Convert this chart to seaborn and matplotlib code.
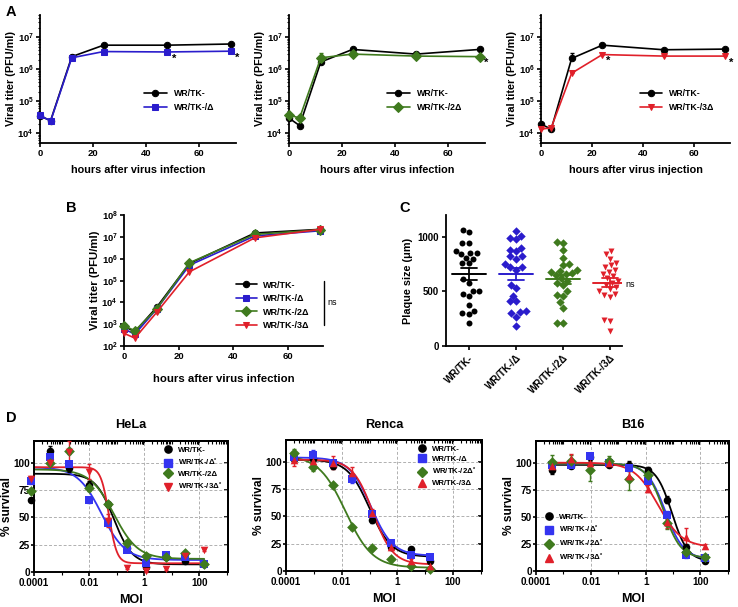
import numpy as np
import pandas as pd
import matplotlib
matplotlib.use('Agg')
import matplotlib.pyplot as plt
import seaborn as sns
from matplotlib.ticker import LogLocator, FuncFormatter, NullFormatter, MultipleLocator, FixedLocator
from matplotlib.lines import Line2D

sns.set_style('ticks')
plt.rcParams.update({
    'font.family': ['Liberation Sans', 'DejaVu Sans'], 'font.weight': 'bold',
    'axes.labelweight': 'bold', 'axes.titleweight': 'bold',
    'mathtext.fontset': 'custom', 'mathtext.rm': 'Liberation Sans:bold',
    'mathtext.bf': 'Liberation Sans:bold', 'mathtext.it': 'Liberation Sans:bold',
    'mathtext.default': 'bf', 'axes.linewidth': 1.3,
    'xtick.major.width': 1.2, 'ytick.major.width': 1.2,
    'xtick.minor.width': 0.8, 'ytick.minor.width': 0.8,
    'xtick.major.size': 3, 'ytick.major.size': 3,
    'xtick.minor.size': 1.8, 'ytick.minor.size': 1.8,
    'text.color': 'black', 'axes.labelcolor': 'black',
    'xtick.color': 'black', 'ytick.color': 'black', 'axes.edgecolor': 'black',
})

W, H = 738, 607

# ── colours / markers ────────────────────────────────────────────────────────
BLACK = '#000000'
BLUE = '#2a1ccc'
BLUE_D = '#3434f0'
GREEN = '#3f7a1e'
RED = '#e0202a'

# ── Panel A: growth curves (PFU/ml) ──────────────────────────────────────────
TIME = [0, 4, 12, 24, 48, 72]
A1_WR = [3.5e4, 2.5e4, 2.5e6, 5.7e6, 5.7e6, 6.2e6]
A1_WR_ERR = [4e3, 2e3, 3e5, 4e5, 3e5, 3e5]
A1_D1 = [3.7e4, 2.4e4, 2.3e6, 3.6e6, 3.5e6, 3.7e6]
A1_D1_ERR = [5e3, 2e3, 6e5, 3e5, 3e5, 3e5]
A1_STARS = [48, 72]

A2_WR = [3.0e4, 1.75e4, 1.7e6, 4.2e6, 3.0e6, 4.2e6]
A2_WR_ERR = [3e3, 1.5e3, 2e5, 3e5, 2e5, 3e5]
A2_D2 = [3.8e4, 3.0e4, 2.3e6, 3.0e6, 2.6e6, 2.5e6]
A2_D2_ERR = [4e3, 3e3, 9e5, 3e5, 2e5, 2e5]
A2_STARS = [72]

A3_WR = [1.95e4, 1.35e4, 2.2e6, 5.7e6, 4.1e6, 4.3e6]
A3_WR_ERR = [2e3, 1.5e3, 1.1e6, 5e5, 3e5, 3e5]
A3_D3 = [1.35e4, 1.5e4, 7.6e5, 2.9e6, 2.6e6, 2.6e6]
A3_D3_ERR = [1e3, 1.5e3, 8e4, 2.5e5, 2e5, 2e5]
A3_STARS = [24, 72]

# ── Panel B ──────────────────────────────────────────────────────────────────
B_WR = [800, 450, 6000, 6.0e5, 1.5e7, 2.2e7]
B_D1 = [600, 350, 5000, 5.0e5, 1.1e7, 1.9e7]
B_D2 = [850, 500, 5000, 6.5e5, 1.3e7, 2.1e7]
B_D3 = [380, 230, 3500, 2.5e5, 9.0e6, 2.2e7]

# ── Panel C: plaque size (µm) ────────────────────────────────────────────────
C_GROUPS = ['WR/TK-', 'WR/TK-/Δ', 'WR/TK-/2Δ', 'WR/TK-/3Δ']
C_WR = [1060, 1045, 940, 940, 870, 850, 850, 840, 810, 800, 760, 760, 610, 580,
        500, 500, 480, 460, 380, 320, 300, 290, 210]
C_D1 = [1050, 1010, 990, 980, 900, 880, 870, 820, 820, 800, 750, 720, 720, 700,
        560, 530, 460, 410, 410, 320, 310, 300, 270, 180]
C_D2 = [950, 940, 880, 810, 750, 740, 700, 690, 680, 670, 660, 650, 620, 600,
        580, 560, 500, 470, 460, 400, 350, 210, 210]
C_D3 = [870, 840, 800, 760, 740, 720, 700, 680, 660, 640, 620, 600, 580, 560,
        540, 520, 500, 480, 470, 450, 240, 230, 140]

# ── Panel D: % survival vs MOI ───────────────────────────────────────────────
HELA_MOI = [7.68e-5, 3.84e-4, 1.92e-3, 9.6e-3, 0.048, 0.24, 1.2, 6, 30, 150]
HELA_WR = [66, 111, 95, 80, 62, 22, 5, 14, 10, 7]
HELA_D1 = [83, 105, 99, 66, 45, 20, 8, 16, 14, 7]
HELA_D2 = [74, 100, 111, 77, 62, 27, 15, 14, 17, 7]
HELA_D3 = [85, 100, 110, 92, 47, 4, 1, 3, 15, 20]
HELA_WR_ERR = [2, 4, 3, 3, 2, 2, 1, 2, 2, 1]
HELA_D1_ERR = [2, 3, 3, 3, 3, 2, 2, 2, 2, 2]
HELA_D2_ERR = [2, 2, 3, 3, 2, 2, 2, 2, 2, 1]
HELA_D3_ERR = [3, 3, 10, 7, 6, 1, 1, 1, 2, 1]
# fitted 4PL: top, bottom, logEC50, hill
HELA_FIT = [(90, 7, -1.10, 1.3), (96, 11, -1.55, 1.0), (94, 12, -1.10, 1.0), (96, 8, -1.28, 3.0)]

RENCA_MOI = [1.92e-4, 9.6e-4, 4.8e-3, 0.024, 0.12, 0.6, 3, 15]
RENCA_WR = [103, 103, 96, 85, 47, 22, 20, 9]
RENCA_D1 = [104, 106, 99, 84, 52, 26, 15, 13]
RENCA_D2 = [108, 95, 79, 40, 21, 11, 5, 2]
RENCA_D3 = [102, 101, 99, 90, 53, 22, 9, 5]
RENCA_WR_ERR = [3, 3, 3, 3, 3, 2, 2, 2]
RENCA_D1_ERR = [3, 5, 3, 3, 3, 2, 2, 2]
RENCA_D2_ERR = [4, 3, 2, 2, 2, 2, 1, 1]
RENCA_D3_ERR = [6, 4, 6, 5, 4, 3, 2, 2]
RENCA_FIT = [(102, 13, -1.00, 1.1), (104, 14, -0.95, 1.1), (106, 3, -1.86, 0.9), (102, 6, -0.88, 1.2)]

B16_MOI = [3.84e-4, 1.92e-3, 9.6e-3, 0.048, 0.24, 1.2, 6, 30, 150]
B16_WR = [93, 97, 105, 98, 98, 93, 66, 22, 9]
B16_D1 = [98, 98, 106, 100, 95, 83, 52, 15, 12]
B16_D2 = [101, 102, 93, 102, 85, 89, 44, 18, 13]
B16_D3 = [97, 103, 100, 100, 88, 76, 45, 31, 23]
B16_WR_ERR = [3, 2, 3, 2, 4, 3, 3, 3, 2]
B16_D1_ERR = [3, 2, 3, 2, 3, 3, 3, 3, 2]
B16_D2_ERR = [6, 5, 10, 4, 10, 5, 5, 4, 3]
B16_D3_ERR = [4, 5, 3, 3, 4, 3, 5, 9, 2]
B16_FIT = [(98, 9, 0.96, 1.5), (99, 11, 0.72, 1.3), (99, 12, 0.66, 1.4), (100, 22, 0.45, 1.0)]


def box(l, t, r, b):
    return fig.add_axes([l / W, 1 - b / H, (r - l) / W, (b - t) / H])


def log_fmt(v, pos):
    return r'$\mathbf{10^{%d}}$' % int(round(np.log10(v)))


def style_titer(ax, ylim, xlabel):
    sns.despine(ax=ax)
    ax.set_yscale('log')
    ax.set_ylim(*ylim)
    ax.set_xlim(0, 74)
    ax.xaxis.set_major_locator(MultipleLocator(20))
    ax.yaxis.set_major_locator(LogLocator(base=10, numticks=12))
    ax.yaxis.set_major_formatter(FuncFormatter(log_fmt))
    ax.yaxis.set_minor_formatter(NullFormatter())
    ax.tick_params(labelsize=6.8, pad=1.5)
    ax.set_xlabel(xlabel, fontsize=7.8, labelpad=5)
    ax.set_ylabel('Viral titer (PFU/ml)', fontsize=7.8, labelpad=1)


def titer_line(ax, y, err, color, marker, label):
    sns.lineplot(x=TIME, y=y, ax=ax, color=color, marker=marker, markersize=4.6,
                 markeredgecolor=color, linewidth=1.2, label=label, clip_on=False, zorder=3)
    if err is not None:
        ax.errorbar(TIME, y, yerr=[np.zeros(len(err)), err], fmt='none', ecolor=color,
                    elinewidth=1, capsize=1.5, clip_on=False, zorder=2)


fig = plt.figure(figsize=(W / 100, H / 100), dpi=100)

# ── A ────────────────────────────────────────────────────────────────────────
a_specs = [
    ((40, 15, 236, 143), A1_WR, A1_WR_ERR, A1_D1, A1_D1_ERR, BLUE, 's', 'WR/TK-/Δ', A1_STARS,
     'hours after virus infection', 0.49),
    ((289, 15, 485, 143), A2_WR, A2_WR_ERR, A2_D2, A2_D2_ERR, GREEN, 'D', 'WR/TK-/2Δ', A2_STARS,
     'hours after virus infection', 0.46),
    ((541, 15, 730, 143), A3_WR, A3_WR_ERR, A3_D3, A3_D3_ERR, RED, 'v', 'WR/TK-/3Δ', A3_STARS,
     'hours after virus injection', 0.48),
]
for pos, wr, wr_e, mut, mut_e, col, mk, lab, stars, xl, lx in a_specs:
    ax = box(*pos)
    titer_line(ax, wr, wr_e, BLACK, 'o', 'WR/TK-')
    titer_line(ax, mut, mut_e, col, mk, lab)
    style_titer(ax, (5e3, 5e7), xl)
    for t in stars:
        v = mut[TIME.index(t)]
        ax.text(t + 2.5, v * 0.62, '*', fontsize=8, ha='center', va='center', clip_on=False)
    ax.legend(loc='center left', bbox_to_anchor=(lx, 0.33), frameon=False, fontsize=6.3,
              handlelength=2.6, labelspacing=0.55, handletextpad=0.8)
fig.text(6 / W, 1 - 12 / H, 'A', fontsize=10.5, fontweight='bold', va='center')

# ── B ────────────────────────────────────────────────────────────────────────
ax = box(124, 215, 323, 346)
for y, col, mk, lab in [(B_WR, BLACK, 'o', 'WR/TK-'), (B_D1, BLUE, 's', 'WR/TK-/Δ'),
                        (B_D2, GREEN, 'D', 'WR/TK-/2Δ'), (B_D3, RED, 'v', 'WR/TK-/3Δ')]:
    titer_line(ax, y, None, col, mk, lab)
style_titer(ax, (1e2, 1e8), 'hours after virus infection')
ax.set_xlim(0, 73)
ax.xaxis.label.set_size(8.2)
ax.yaxis.label.set_size(8.2)
ax.xaxis.labelpad = 9
ax.legend(loc='center left', bbox_to_anchor=(0.52, 0.31), frameon=False, fontsize=6.5,
          handlelength=2.4, labelspacing=0.5, handletextpad=0.6)
ax.plot([1.005, 1.005], [0.16, 0.5], transform=ax.transAxes, color='black', lw=1, clip_on=False)
ax.text(1.02, 0.33, 'ns', transform=ax.transAxes, fontsize=6.5, fontweight='normal', va='center')
fig.text(66 / W, 1 - 208 / H, 'B', fontsize=10.5, fontweight='bold', va='center')

# ── C ────────────────────────────────────────────────────────────────────────
ax = box(446, 215, 622, 346)
c_df = pd.DataFrame({
    'group': sum([[g] * len(v) for g, v in zip(C_GROUPS, [C_WR, C_D1, C_D2, C_D3])], []),
    'size': C_WR + C_D1 + C_D2 + C_D3,
})
for i, (g, col, mk) in enumerate(zip(C_GROUPS, [BLACK, BLUE, GREEN, RED], ['o', 'D', 'D', 'v'])):
    sub = c_df[c_df.group == g]
    sns.swarmplot(data=sub, x='group', y='size', order=C_GROUPS, color=col, marker=mk,
                  size=4.3, linewidth=0, ax=ax, zorder=2)
    m = sub['size'].mean()
    se = sub['size'].std(ddof=1) / np.sqrt(len(sub))
    ax.plot([i - 0.36, i + 0.36], [m, m], color=col, lw=1.4, zorder=3)
    ax.plot([i, i], [m - se, m + se], color=col, lw=1.3, zorder=3)
    for yv in (m - se, m + se):
        ax.plot([i - 0.17, i + 0.17], [yv, yv], color=col, lw=1.3, zorder=3)
sns.despine(ax=ax)
ax.set_xlim(-0.48, 3.25)
ax.set_ylim(0, 1200)
ax.yaxis.set_major_locator(FixedLocator([0, 500, 1000]))
ax.set_xlabel('')
ax.set_ylabel('Plaque size (μm)', fontsize=7.8, labelpad=3)
ax.tick_params(labelsize=7, pad=2)
plt.setp(ax.get_xticklabels(), rotation=45, ha='right', rotation_mode='anchor')
ax.text(3.33, 560, 'ns', fontsize=6.5, fontweight='normal', va='center', clip_on=False)
fig.text(399 / W, 1 - 208 / H, 'C', fontsize=10.5, fontweight='bold', va='center')

# ── D ────────────────────────────────────────────────────────────────────────
def fourpl(x, top, bottom, logec, hill):
    return bottom + (top - bottom) / (1 + 10 ** ((np.log10(x) - logec) * hill))


d_specs = [
    ('HeLa', (34, 441, 228, 572), HELA_MOI,
     [HELA_WR, HELA_D1, HELA_D2, HELA_D3], [HELA_WR_ERR, HELA_D1_ERR, HELA_D2_ERR, HELA_D3_ERR],
     HELA_FIT, ['o', 's', 'D', 'v'],
     ['WR/TK-', 'WR/TK-/Δ$^{*}$', 'WR/TK-/2Δ', 'WR/TK-/3Δ$^{*}$'], 'upper right', (1.0, 1.0)),
    ('Renca', (286, 440, 482, 571), RENCA_MOI,
     [RENCA_WR, RENCA_D1, RENCA_D2, RENCA_D3], [RENCA_WR_ERR, RENCA_D1_ERR, RENCA_D2_ERR, RENCA_D3_ERR],
     RENCA_FIT, ['o', 's', 'D', '^'],
     ['WR/TK-', 'WR/TK-/Δ', 'WR/TK-/2Δ$^{*}$', 'WR/TK-/3Δ'], 'upper right', (1.0, 1.0)),
    ('B16', (536, 441, 729, 571), B16_MOI,
     [B16_WR, B16_D1, B16_D2, B16_D3], [B16_WR_ERR, B16_D1_ERR, B16_D2_ERR, B16_D3_ERR],
     B16_FIT, ['o', 's', 'D', '^'],
     ['WR/TK-', 'WR/TK-/Δ$^{*}$', 'WR/TK-/2Δ$^{*}$', 'WR/TK-/3Δ$^{*}$'], 'lower left', (0.0, 0.02)),
]
d_cols = [BLACK, BLUE_D, GREEN, RED]
for title, pos, moi, series, errs, fits, mks, labels, lloc, lanchor in d_specs:
    ax = box(*pos)
    ax.set_xscale('log')
    handles = []
    for y, e, fit, col, mk, lab in zip(series, errs, fits, d_cols, mks, labels):
        xs = np.logspace(np.log10(max(moi[0], 1e-4)), np.log10(moi[-1]), 200)
        sns.lineplot(x=xs, y=fourpl(xs, *fit), ax=ax, color=col, lw=1.3, zorder=2)
        ax.errorbar(moi, y, yerr=e, fmt='none', ecolor=col, elinewidth=1, capsize=1.5,
                    zorder=3, clip_on=False)
        sns.scatterplot(x=moi, y=y, ax=ax, color=col, marker=mk, s=30, linewidth=0,
                        zorder=4, clip_on=False)
        handles.append(Line2D([], [], ls='none', marker=mk, color=col, markersize=5.2, label=lab))
    ax.set_xlim(1e-4, 1.1e3)
    ax.set_ylim(0, 120)
    ax.xaxis.set_major_locator(FixedLocator([1e-4, 1e-2, 1, 1e2]))
    ax.xaxis.set_minor_locator(FixedLocator([1e-3, 1e-1, 10, 1e3]))
    ax.xaxis.set_major_formatter(FuncFormatter(lambda v, p: '%g' % v))
    ax.xaxis.set_minor_formatter(NullFormatter())
    ax.yaxis.set_major_locator(FixedLocator([0, 25, 50, 75, 100]))
    ax.grid(True, which='major', ls=(0, (3, 2)), color='#b0b0b0', lw=0.7)
    for s in ax.spines.values():
        s.set_linewidth(1.4)
    ax.tick_params(axis='x', labelsize=7.1, pad=1.5)
    ax.tick_params(axis='y', labelsize=7.2, pad=0.8, length=2.2)
    sec = ax.secondary_xaxis('top')
    sec.xaxis.set_major_locator(LogLocator(base=100, numticks=10))
    sec.xaxis.set_minor_locator(LogLocator(base=10, subs=np.arange(1, 10), numticks=20))
    sec.tick_params(which='both', direction='in', labeltop=False)
    sec.xaxis.set_minor_formatter(NullFormatter())
    secy = ax.secondary_yaxis('right')
    secy.yaxis.set_major_locator(FixedLocator([0, 25, 50, 75, 100]))
    secy.tick_params(direction='in', labelright=False)
    ax.set_title(title, fontsize=9.2, pad=9)
    ax.set_xlabel('MOI', fontsize=9, labelpad=4)
    ax.set_ylabel('% survival', fontsize=8.6)
    ax.yaxis.set_label_coords(-20.5 / (pos[2] - pos[0]), 0.5)
    ax.legend(handles=handles, loc=lloc, bbox_to_anchor=lanchor, frameon=False, fontsize=5.6,
              handletextpad=0.3, labelspacing=0.35, borderaxespad=0.3)
fig.text(6 / W, 1 - 418 / H, 'D', fontsize=10.5, fontweight='bold', va='center')

fig.savefig('out.png', dpi=100)
